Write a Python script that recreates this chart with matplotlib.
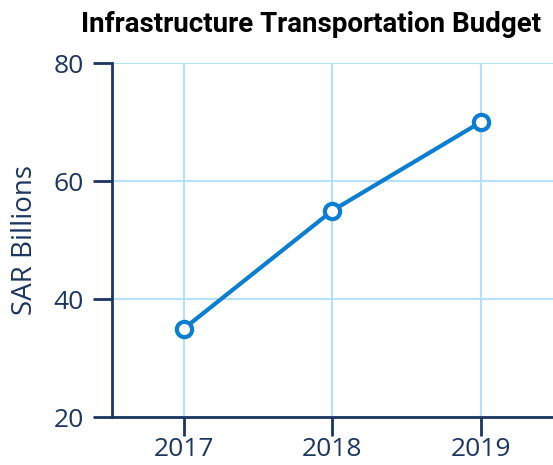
import matplotlib.pyplot as plt

years = ["2017", "2018", "2019"]
budget = [35, 55, 70]
y_ticks = [20, 40, 60, 80]

navy = "#1c3660"
grid_blue = "#b5e0f8"
line_blue = "#0a7fd2"

fig = plt.figure(figsize=(5.53, 4.65), dpi=100)
ax = fig.add_axes([0.2025, 0.1032, 0.7975, 0.7613])

x = list(range(len(years)))
ax.plot(x, budget, color=line_blue, linewidth=3, marker="o", markersize=11,
        markerfacecolor="white", markeredgecolor=line_blue, markeredgewidth=3,
        zorder=3)

ax.set_xlim(-0.485, 2.485)
ax.set_ylim(20, 80)
ax.set_xticks(x)
ax.set_xticklabels(years)
ax.set_yticks(y_ticks)

ax.grid(True, color=grid_blue, linewidth=1.5)
ax.set_axisbelow(True)

for side in ["top", "right"]:
    ax.spines[side].set_visible(False)
for side in ["left", "bottom"]:
    ax.spines[side].set_color(navy)
    ax.spines[side].set_linewidth(2)

ax.tick_params(axis="both", colors=navy, length=13.5, width=2, labelsize=19)
ax.tick_params(axis="y", pad=7)
ax.tick_params(axis="x", pad=1)
for lbl in ax.get_xticklabels() + ax.get_yticklabels():
    lbl.set_fontfamily("Open Sans")

ax.set_ylabel("SAR Billions", fontsize=20, color=navy, family="Open Sans",
              labelpad=10)

fig.text(311 / 553, 1 - 24 / 465, "Infrastructure Transportation Budget",
         ha="center", va="center", fontsize=20, fontweight="bold",
         family="Roboto", color="black")

fig.savefig("out.png", dpi=100)
